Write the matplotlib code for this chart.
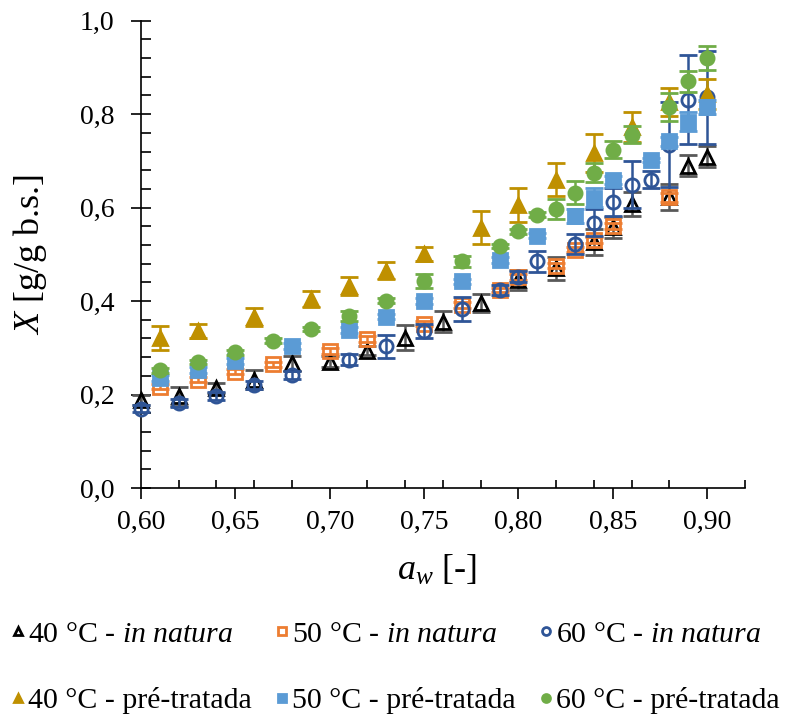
import numpy as np
import matplotlib.pyplot as plt
from matplotlib.ticker import MultipleLocator, FuncFormatter

plt.rcParams['font.family'] = 'Liberation Serif'
plt.rcParams['mathtext.fontset'] = 'custom'
plt.rcParams['mathtext.rm'] = 'Liberation Serif'
plt.rcParams['mathtext.it'] = 'Liberation Serif:italic'

# 40 °C - in natura
aw_40n = [0.60, 0.62, 0.64, 0.66, 0.68, 0.70, 0.72, 0.74, 0.76, 0.78, 0.80, 0.82, 0.84, 0.85, 0.86, 0.88, 0.89, 0.90]
x_40n = [0.188, 0.196, 0.214, 0.232, 0.267, 0.270, 0.294, 0.322, 0.356, 0.396, 0.445, 0.470, 0.527, 0.558, 0.608, 0.622, 0.690, 0.709]
e_40n = [0.010, 0.020, 0.010, 0.020, 0.016, 0.012, 0.010, 0.027, 0.022, 0.020, 0.022, 0.025, 0.028, 0.022, 0.025, 0.028, 0.022, 0.023]

# 50 °C - in natura
aw_50n = [0.61, 0.63, 0.65, 0.67, 0.70, 0.72, 0.75, 0.77, 0.79, 0.80, 0.82, 0.83, 0.84, 0.85, 0.88]
x_50n = [0.217, 0.232, 0.249, 0.265, 0.293, 0.319, 0.352, 0.392, 0.424, 0.452, 0.476, 0.510, 0.531, 0.561, 0.622]
e_50n = [0.005, 0.005, 0.005, 0.005, 0.006, 0.006, 0.006, 0.006, 0.005, 0.006, 0.006, 0.006, 0.006, 0.006, 0.010]

# 60 °C - in natura
aw_60n = [0.60, 0.62, 0.64, 0.66, 0.68, 0.71, 0.73, 0.75, 0.77, 0.79, 0.80, 0.81, 0.83, 0.84, 0.85, 0.86, 0.87, 0.88, 0.89, 0.90]
x_60n = [0.170, 0.182, 0.197, 0.220, 0.242, 0.275, 0.303, 0.337, 0.383, 0.424, 0.452, 0.485, 0.522, 0.568, 0.611, 0.649, 0.660, 0.735, 0.831, 0.836]
e_60n = [0.008, 0.008, 0.008, 0.008, 0.008, 0.012, 0.024, 0.015, 0.025, 0.010, 0.012, 0.022, 0.022, 0.028, 0.030, 0.050, 0.018, 0.090, 0.095, 0.100]

# 40 °C - pré-tratada
aw_40p = [0.61, 0.63, 0.66, 0.69, 0.71, 0.73, 0.75, 0.78, 0.80, 0.82, 0.84, 0.86, 0.88, 0.90]
x_40p = [0.321, 0.336, 0.366, 0.405, 0.432, 0.465, 0.501, 0.557, 0.606, 0.660, 0.717, 0.772, 0.826, 0.844]
e_40p = [0.025, 0.015, 0.020, 0.017, 0.020, 0.018, 0.015, 0.035, 0.037, 0.036, 0.040, 0.032, 0.030, 0.032]

# 50 °C - pré-tratada
aw_50p = [0.61, 0.63, 0.65, 0.68, 0.71, 0.73, 0.75, 0.77, 0.79, 0.81, 0.83, 0.84, 0.85, 0.87, 0.88, 0.89, 0.90]
x_50p = [0.235, 0.252, 0.272, 0.304, 0.338, 0.367, 0.400, 0.442, 0.488, 0.540, 0.582, 0.621, 0.659, 0.702, 0.742, 0.784, 0.815]
e_50p = [0.006, 0.006, 0.006, 0.006, 0.006, 0.006, 0.006, 0.006, 0.006, 0.006, 0.015, 0.020, 0.008, 0.005, 0.010, 0.020, 0.015]

# 60 °C - pré-tratada
aw_60p = [0.61, 0.63, 0.65, 0.67, 0.69, 0.71, 0.73, 0.75, 0.77, 0.79, 0.80, 0.81, 0.82, 0.83, 0.84, 0.85, 0.86, 0.88, 0.89, 0.90]
x_60p = [0.252, 0.270, 0.290, 0.315, 0.340, 0.368, 0.401, 0.442, 0.485, 0.518, 0.549, 0.585, 0.597, 0.632, 0.675, 0.724, 0.756, 0.816, 0.870, 0.920]
e_60p = [0.005, 0.005, 0.005, 0.005, 0.005, 0.010, 0.005, 0.015, 0.012, 0.005, 0.005, 0.005, 0.022, 0.024, 0.020, 0.018, 0.018, 0.030, 0.023, 0.026]

series = [
    (aw_40n, x_40n, e_40n, '^', 'none', 'black', '#595959', 10.5, '40 °C - $\\mathit{in\\ natura}$'),
    (aw_50n, x_50n, e_50n, 's', 'none', '#ED7D31', '#ED7D31', 9.5, '50 °C - $\\mathit{in\\ natura}$'),
    (aw_60n, x_60n, e_60n, 'o', 'none', '#2F5597', '#2F5597', 9.5, '60 °C - $\\mathit{in\\ natura}$'),
    (aw_40p, x_40p, e_40p, '^', '#BF9000', '#BF9000', '#BF9000', 10.5, '40 °C - pré-tratada'),
    (aw_50p, x_50p, e_50p, 's', '#5B9BD5', '#5B9BD5', '#5B9BD5', 9.5, '50 °C - pré-tratada'),
    (aw_60p, x_60p, e_60p, 'o', '#70AD47', '#70AD47', '#70AD47', 9.5, '60 °C - pré-tratada'),
]

fig = plt.figure(figsize=(7.85, 7.18), dpi=100)
ax = fig.add_axes([0.1796, 0.3203, 0.7694, 0.6509])

handles = []
for i, (aw, xv, ev, mk, fc, ec, bc, ms, lab) in enumerate(series):
    eb = ax.errorbar(aw, xv, yerr=ev, fmt=mk, ms=ms, mfc=fc, mec=ec, mew=2.0,
                     ecolor=bc, elinewidth=1.8, capsize=6.5, capthick=1.8,
                     label=lab, zorder=3 + i, clip_on=False)
    handles.append(eb.lines[0])

ax.set_xlim(0.60, 0.92)
ax.set_ylim(0.0, 1.0)
ax.xaxis.set_major_locator(MultipleLocator(0.05))
ax.xaxis.set_minor_locator(MultipleLocator(0.02))
ax.yaxis.set_major_locator(MultipleLocator(0.2))
ax.yaxis.set_minor_locator(MultipleLocator(0.04))
ax.xaxis.set_major_formatter(FuncFormatter(lambda v, p: ('%.2f' % v).replace('.', ',') if v < 0.91 else ''))
ax.yaxis.set_major_formatter(FuncFormatter(lambda v, p: ('%.1f' % v).replace('.', ',')))

ax.tick_params(axis='x', which='major', direction='out', length=8, width=1.2, labelsize=20, pad=8)
ax.tick_params(axis='x', which='minor', direction='in', length=6, width=1.2)
ax.tick_params(axis='y', which='major', direction='inout', length=14, width=1.2, labelsize=20, pad=12)
ax.tick_params(axis='y', which='minor', direction='in', length=7, width=1.2)

for s in ['top', 'right']:
    ax.spines[s].set_visible(False)
for s in ['left', 'bottom']:
    ax.spines[s].set_linewidth(1.2)

ax.set_ylabel('$\\mathit{X}$ [g/g b.s.]', fontsize=26, labelpad=22)
ax.set_xlabel('$\\mathit{a_w}$ [-]', fontsize=26, labelpad=14)
ax.xaxis.set_label_coords(0.49, -0.14)

# legend fills column-wise, so reorder to keep in natura on the first row
order = [0, 3, 1, 4, 2, 5]
fig.legend([handles[k] for k in order], [series[k][8] for k in order],
           loc='upper left', bbox_to_anchor=(0.0076, 0.1434), ncol=3, frameon=False,
           fontsize=21.5, markerscale=0.6, handlelength=0.4, handletextpad=0.15,
           columnspacing=0.8, labelspacing=1.32, borderpad=0.2, borderaxespad=0)

fig.savefig('out.png', dpi=100)
